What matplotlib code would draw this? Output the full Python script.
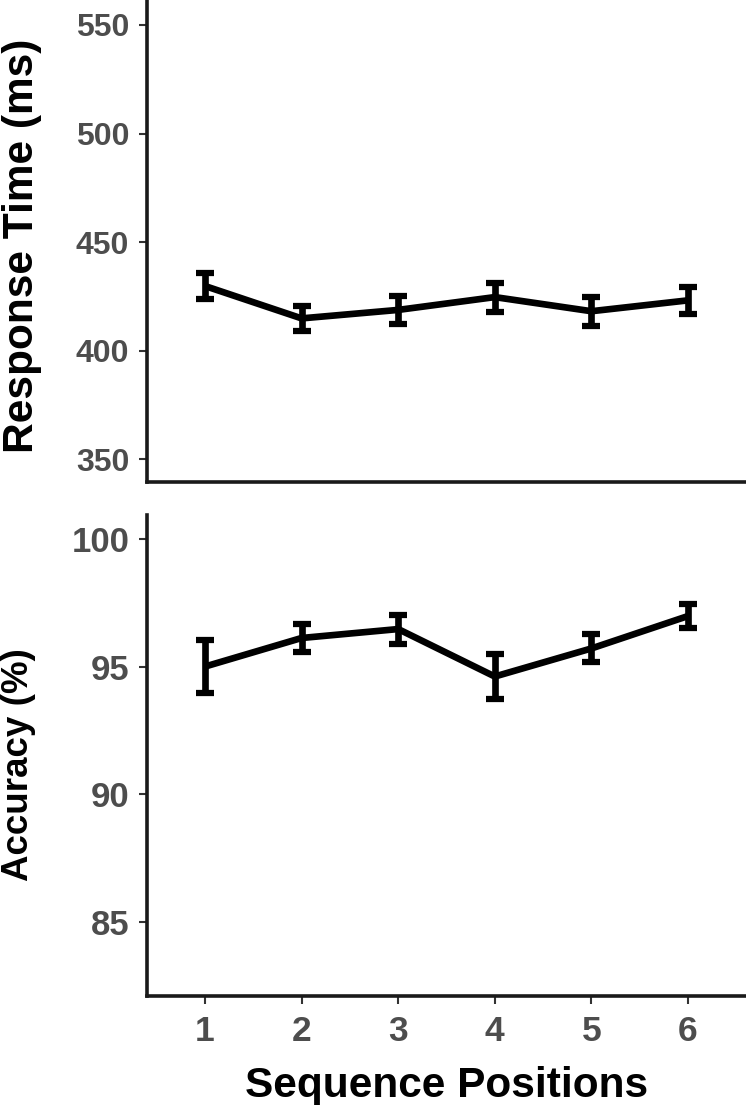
import matplotlib
matplotlib.use("Agg")
import matplotlib.pyplot as plt

# ---- data ----
positions = [1, 2, 3, 4, 5, 6]
rt_mean = [429.8, 414.9, 418.8, 424.7, 418.2, 423.2]
rt_err = [6.1, 5.7, 6.4, 6.7, 6.7, 6.3]
acc_mean = [95.0, 96.12, 96.47, 94.61, 95.71, 96.98]
acc_err = [1.03, 0.54, 0.57, 0.89, 0.55, 0.46]
rt_ticks = [350, 400, 450, 500, 550]
acc_ticks = [85, 90, 95, 100]
x_ticks = [1, 2, 3, 4, 5, 6]

FONT = ["Liberation Sans", "DejaVu Sans"]
plt.rcParams["font.family"] = FONT

W, H = 746, 1105
fig = plt.figure(figsize=(W / 100, H / 100), dpi=100)

left = 147 / W
width = 1 - left
ax1 = fig.add_axes([left, 1 - 481.7 / H, width, 481.7 / H])
ax2 = fig.add_axes([left, 1 - 996 / H, width, (996 - 515) / H])

def style(ax, tick_fs):
    for s in ["top", "right"]:
        ax.spines[s].set_visible(False)
    for s in ["left", "bottom"]:
        ax.spines[s].set_linewidth(2.6)
        ax.spines[s].set_color("#1a1a1a")
    ax.tick_params(axis="both", length=5.8, width=1.5, color="#333333",
                   labelcolor="#4d4d4d", labelsize=tick_fs)
    ax.tick_params(axis="y", pad=7)
    ax.tick_params(axis="x", pad=8)
    for lab in ax.get_xticklabels() + ax.get_yticklabels():
        lab.set_fontweight("bold")
    ax.set_facecolor("white")

ekw = dict(color="black", linewidth=4.8, elinewidth=4.8, capsize=6.8,
           capthick=4.5, solid_capstyle="butt")

ax1.errorbar(positions, rt_mean, yerr=rt_err, **ekw)
ax1.set_xlim(0.4, 6.6)
ax1.set_ylim(339.7, 561.5)
ax1.set_yticks(rt_ticks)
ax1.set_xticks([])
style(ax1, 23)

ax2.errorbar(positions, acc_mean, yerr=acc_err, **ekw)
ax2.set_xlim(0.4, 6.6)
ax2.set_ylim(82.09, 100.94)
ax2.set_yticks(acc_ticks)
ax2.set_xticks(x_ticks)
style(ax2, 25)
for lab in ax2.get_xticklabels():
    lab.set_fontsize(25.5)

ax2.set_xlabel("Sequence Positions", fontsize=30.5, fontweight="bold",
               color="black", labelpad=13)

fig.text(1.5 / W, 1 - 246 / H, "Response Time (ms)", rotation=90,
         ha="left", va="center", fontsize=30.5, fontweight="bold",
         color="black")
fig.text(1.5 / W, 1 - 765 / H, "Accuracy (%)", rotation=90,
         ha="left", va="center", fontsize=26.5, fontweight="bold",
         color="black")

fig.savefig("out.png", dpi=100, facecolor="white")
